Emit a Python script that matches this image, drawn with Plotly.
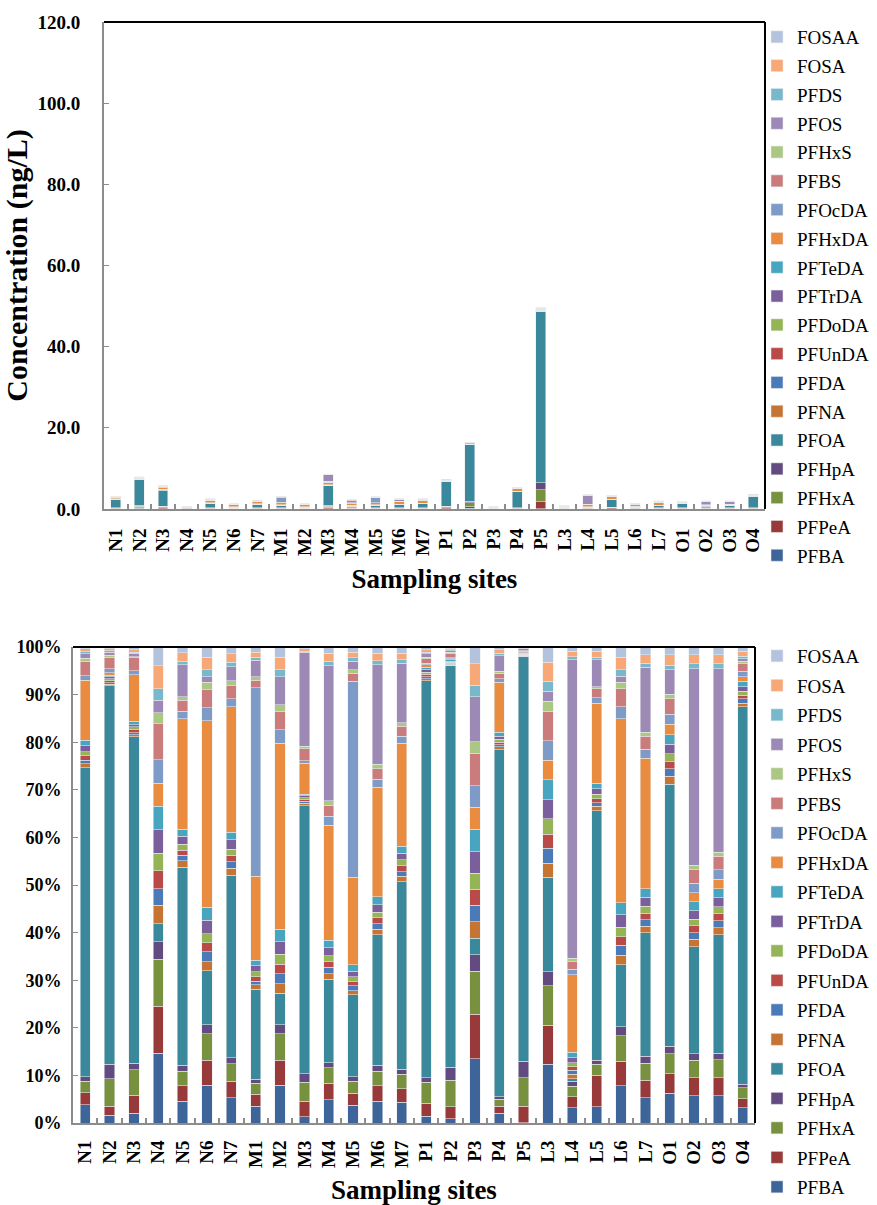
import numpy as np
import plotly.graph_objects as go

sites = ["N1","N2","N3","N4","N5","N6","N7","M1","M2","M3","M4","M5","M6","M7",
         "P1","P2","P3","P4","P5","L3","L4","L5","L6","L7","O1","O2","O3","O4"]

# total concentration (ng/L) per site
totals = [3.1, 7.9, 5.75, 0.74, 2.5, 1.3, 2.1, 3.2, 1.3, 8.6, 2.3, 3.0, 2.5, 2.5,
          7.3, 16.5, 0.74, 5.4, 49.6, 0.8, 3.5, 3.4, 1.4, 2.0, 1.8, 2.0, 2.0, 3.6]

# composition (%) per compound
PFBA   = [3.8,1.6,2.0,14.7,4.6,7.9,5.3,3.5,7.9,1.3,4.9,3.7,4.6,4.4,1.4,0.9,13.5,2.1,0.1,12.3,3.2,3.4,7.8,5.3,6.2,5.7,5.7,3.2]
PFPeA  = [2.5,1.9,3.8,9.8,3.2,5.3,3.5,2.5,5.3,3.3,3.4,2.5,3.2,2.8,2.7,2.5,9.3,1.4,3.4,8.2,2.3,6.6,5.2,3.7,4.2,3.8,3.8,1.9]
PFHxA  = [2.5,5.8,5.4,9.9,3.1,5.5,3.7,2.3,5.5,4.0,3.3,2.6,3.1,3.0,4.5,5.6,9.1,1.5,6.0,8.3,2.2,2.3,5.3,3.6,4.2,3.7,3.8,2.3]
PFHpA  = [0.9,3.0,1.4,3.7,1.2,1.9,1.2,0.9,1.9,1.8,1.1,0.9,1.2,1.1,0.9,2.8,3.5,0.5,3.5,3.0,1.1,0.9,1.9,1.4,1.5,1.4,1.4,0.7]
PFOA   = [64.8,79.6,68.5,3.8,41.6,11.4,38.4,18.9,6.7,56.3,17.5,17.2,27.4,39.4,83.4,84.5,3.4,72.9,85.0,19.8,0.5,52.4,13.0,26.0,55.1,22.4,24.8,79.4]
PFNA   = [0.8,0.3,0.5,3.8,1.4,1.9,1.4,0.9,2.0,0.5,1.2,0.9,1.2,1.1,0.4,0.2,3.5,0.6,0.1,3.0,0.9,0.9,2.0,1.3,1.6,1.6,1.5,0.7]
PFDA   = [0.8,0.3,0.4,3.5,1.2,2.1,1.4,0.8,2.1,0.4,1.3,1.0,1.2,1.0,0.5,0.2,3.4,0.5,0.1,3.1,0.9,0.8,2.1,1.4,1.6,1.4,1.5,0.9]
PFUnDA = [0.9,0.4,0.6,3.8,1.0,1.9,1.3,0.9,2.0,0.3,1.2,0.9,1.2,1.2,0.5,0.2,3.4,0.5,0.1,3.0,0.7,0.8,1.8,1.4,1.5,1.4,1.5,0.8]
PFDoDA = [0.8,0.4,0.6,3.7,1.3,1.9,1.3,1.1,2.1,0.4,1.2,1.0,1.2,1.3,0.4,0.2,3.4,0.6,0.1,3.2,0.9,1.0,2.0,1.4,1.7,1.4,1.4,0.8]
PFTrDA = [1.3,0.4,0.5,4.9,1.6,2.8,2.0,1.2,2.6,0.4,1.7,1.2,1.6,1.4,0.5,0.2,4.5,0.6,0.1,4.0,1.0,1.1,2.6,1.9,2.0,1.8,1.9,1.0]
PFTeDA = [1.2,0.4,0.7,4.9,1.5,2.7,1.6,1.2,2.6,0.4,1.6,1.3,1.6,1.4,0.5,0.3,4.7,0.9,0.1,4.2,1.2,1.2,2.6,1.8,2.0,1.9,1.9,1.1]
PFHxDA = [12.5,0.5,9.8,4.9,23.2,39.2,26.3,17.6,39.1,6.5,24.2,18.4,23.0,21.7,0.6,0.2,4.6,10.5,0.2,4.1,16.2,16.8,38.6,27.4,2.2,1.9,2.0,1.0]
PFOcDA = [1.0,0.8,0.8,4.9,1.6,2.7,1.7,39.6,2.8,0.5,1.8,41.2,1.7,1.4,0.3,0.2,4.5,0.7,0.1,4.1,1.2,1.1,2.5,1.9,2.1,2.0,2.0,1.1]
PFBS   = [3.0,2.5,2.7,7.6,2.3,3.8,2.8,1.6,3.9,2.5,2.4,1.7,2.2,2.1,0.9,0.9,6.9,1.2,0.3,6.2,1.6,1.9,3.8,2.7,3.2,2.8,2.8,1.6]
PFHxS  = [0.6,0.4,0.3,2.3,0.8,1.6,1.0,0.8,1.4,0.5,0.9,0.7,1.0,0.8,0.4,0.3,2.4,0.4,0.1,2.1,0.7,0.5,1.4,0.9,1.0,1.0,0.9,0.5]
PFOS   = [1.0,0.6,0.7,2.6,6.7,1.2,2.9,3.4,5.9,19.8,28.4,1.8,20.9,12.5,0.7,0.3,9.5,3.3,0.5,2.1,62.7,5.6,1.3,13.6,5.1,41.2,38.5,0.5]
PFDS   = [0.4,0.3,0.2,2.4,0.7,1.4,1.0,0.6,1.4,0.2,0.9,0.7,0.8,0.7,0.3,0.2,2.4,0.5,0.1,2.1,0.7,0.5,1.3,0.9,1.0,1.1,1.1,0.6]
FOSA   = [0.6,0.4,0.5,4.9,1.8,2.7,1.8,1.1,2.7,0.5,1.7,1.2,1.6,1.4,0.5,0.3,4.5,0.7,0.1,4.0,1.1,1.3,2.7,1.8,2.2,1.9,1.9,1.0]
FOSAA  = [0.4,0.4,0.6,3.9,1.2,2.1,1.4,1.1,2.1,0.4,1.3,1.1,1.3,1.3,0.6,0.3,3.5,0.6,0.1,3.2,0.9,0.9,2.1,1.6,1.6,1.6,1.6,0.9]

compounds = ["PFBA","PFPeA","PFHxA","PFHpA","PFOA","PFNA","PFDA","PFUnDA","PFDoDA",
             "PFTrDA","PFTeDA","PFHxDA","PFOcDA","PFBS","PFHxS","PFOS","PFDS","FOSA","FOSAA"]
series = [PFBA,PFPeA,PFHxA,PFHpA,PFOA,PFNA,PFDA,PFUnDA,PFDoDA,
          PFTrDA,PFTeDA,PFHxDA,PFOcDA,PFBS,PFHxS,PFOS,PFDS,FOSA,FOSAA]
colors = ["#3d6599","#983a3a","#77913f","#624b80","#39889b","#c57434","#4a7ab8","#b94a48",
          "#95b455","#7b5e9c","#48a5c0","#ea8c40","#7e9bc8","#c97c7b","#abc784","#9c89b5",
          "#78b8cc","#f8a877","#b3c3de"]
y_ticks_top = [0, 20, 40, 60, 80, 100, 120]
y_ticklabels_top = ["0.0", "20.0", "40.0", "60.0", "80.0", "100.0", "120.0"]
y_ticks_bot = [0, 10, 20, 30, 40, 50, 60, 70, 80, 90, 100]
y_ticklabels_bot = ["0%", "10%", "20%", "30%", "40%", "50%", "60%", "70%", "80%", "90%", "100%"]

pct = np.array(series, dtype=float)
pct_norm = pct / pct.sum(axis=0) * 100.0
conc = pct_norm * np.array(totals) / 100.0

W, H = 877, 1205
def px_x(v): return v / W
def px_y(v): return 1 - v / H

SERIF = "Liberation Serif"
n = len(compounds)
bar_edge = dict(color="rgba(235,235,235,0.9)", width=0.6)
fig = go.Figure()
for i, name in enumerate(compounds):
    fig.add_trace(go.Bar(x=sites, y=conc[i], name=name, marker_color=colors[i],
                         marker_line=bar_edge, legendrank=100 + n - i,
                         xaxis="x", yaxis="y", legend="legend", legendgroup=name + "_a"))
for i, name in enumerate(compounds):
    fig.add_trace(go.Bar(x=sites, y=pct_norm[i], name=name, marker_color=colors[i],
                         marker_line=bar_edge, legendrank=100 + n - i,
                         xaxis="x2", yaxis="y2", legend="legend2", legendgroup=name + "_b"))

tickfont = dict(family=SERIF, size=19, color="black", weight="bold")
xtitlefont = dict(family=SERIF, size=27, color="black", weight="bold")
ytitlefont = dict(family=SERIF, size=30, color="black", weight="bold")
legfont = dict(family=SERIF, size=19, color="black")
gray = "#8c8c8c"

fig.update_layout(
    width=W, height=H, margin=dict(l=0, r=0, t=0, b=0, autoexpand=False),
    paper_bgcolor="white", plot_bgcolor="white",
    barmode="stack", bargap=0.58,
    xaxis=dict(domain=[px_x(104), px_x(765)], anchor="y", showline=True, linecolor=gray,
               linewidth=2, ticks="inside", tickson="boundaries", ticklen=5, tickcolor=gray,
               tickwidth=2, tickangle=-90, tickfont=tickfont, ticklabelstandoff=10,
               showgrid=False, automargin=False,
               title=dict(text="Sampling sites", font=xtitlefont, standoff=14)),
    yaxis=dict(domain=[px_y(509), px_y(22)], anchor="x", range=[0, 120], tickvals=y_ticks_top,
               ticktext=y_ticklabels_top, showline=True, linecolor=gray, linewidth=2,
               ticks="inside", ticklen=5, tickcolor=gray, tickwidth=1, tickfont=tickfont,
               ticklabelstandoff=18, showgrid=False, zeroline=False, automargin=False,
               title=dict(text="Concentration (ng/L)", font=ytitlefont, standoff=10)),
    xaxis2=dict(domain=[px_x(73), px_x(755)], anchor="y2", showline=True, linecolor=gray,
                linewidth=2, ticks="inside", tickson="boundaries", ticklen=5, tickcolor=gray,
                tickwidth=2, tickangle=-90, tickfont=tickfont, ticklabelstandoff=8,
                showgrid=False, automargin=False,
                title=dict(text="Sampling sites", font=xtitlefont, standoff=16)),
    yaxis2=dict(domain=[px_y(1123), px_y(647)], anchor="x2", range=[0, 100], tickvals=y_ticks_bot,
                ticktext=y_ticklabels_bot, showline=True, linecolor=gray, linewidth=2,
                ticks="inside", ticklen=5, tickcolor=gray, tickwidth=1,
                tickfont=dict(family=SERIF, size=18, color="black", weight="bold"),
                ticklabelstandoff=6, showgrid=False, zeroline=False, automargin=False),
    legend=dict(x=px_x(757), y=px_y(18), xanchor="left", yanchor="top",
                traceorder="grouped", tracegroupgap=1.1,
                font=legfont, bgcolor="rgba(0,0,0,0)"),
    legend2=dict(x=px_x(757), y=px_y(637), xanchor="left", yanchor="top",
                 traceorder="grouped", tracegroupgap=1.8,
                 font=legfont, bgcolor="rgba(0,0,0,0)"),
    shapes=[
        dict(type="line", xref="x domain", yref="y domain", x0=0, x1=1, y0=1, y1=1,
             line=dict(color="black", width=2)),
        dict(type="line", xref="x domain", yref="y domain", x0=1, x1=1, y0=0, y1=1,
             line=dict(color="black", width=2)),
        dict(type="line", xref="x2 domain", yref="y2 domain", x0=0, x1=1, y0=1, y1=1,
             line=dict(color="black", width=2)),
        dict(type="line", xref="x2 domain", yref="y2 domain", x0=1, x1=1, y0=0, y1=1,
             line=dict(color="black", width=2)),
    ],
)

fig.write_html("out.html")
